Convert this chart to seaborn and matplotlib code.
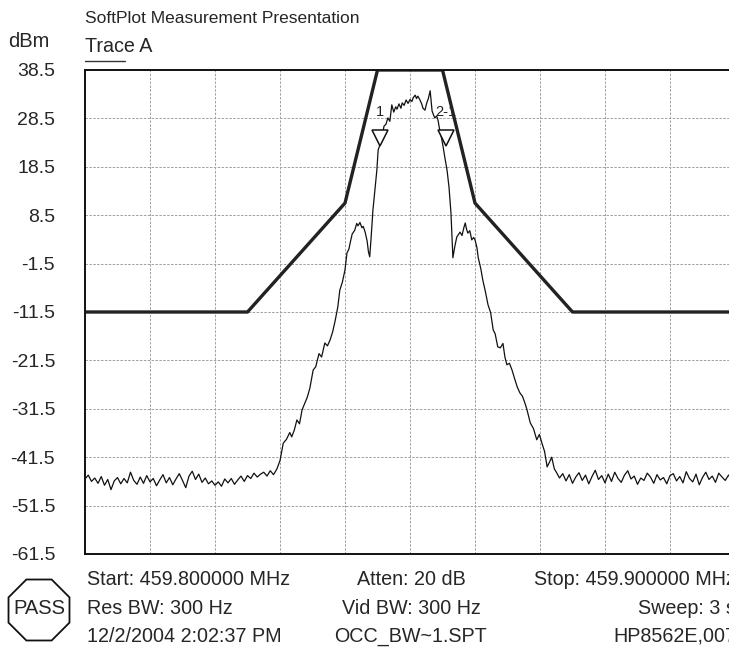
import numpy as np
import pandas as pd
import matplotlib.pyplot as plt
from matplotlib.patches import RegularPolygon
import seaborn as sns

# Sweep settings (MHz) and trace data (offsets in kHz from centre, levels in dBm)
start_mhz = 459.800
stop_mhz = 459.900
center_mhz = 459.850

y_ticks = [-61.5, -51.5, -41.5, -31.5, -21.5, -11.5, -1.5, 8.5, 18.5, 28.5, 38.5]

noise_left_dbm = [
    -46.0, -45.2, -46.5, -45.8, -46.9, -45.5, -47.3, -46.1, -48.2, -46.4,
    -45.7, -47.0, -45.9, -46.8, -44.6, -46.3, -47.1, -45.6, -46.9, -45.3,
    -46.6, -45.9, -47.4, -46.2, -45.1, -46.8, -45.7, -47.2, -46.0, -44.9,
    -46.3, -47.8, -45.4, -44.4, -46.1, -45.0, -46.7, -45.8, -47.0, -46.4,
    -47.3, -46.6, -47.5, -46.0, -46.8, -45.9, -47.1, -46.2, -45.4, -46.5,
    -45.3, -45.9, -44.8, -45.6, -45.0, -44.6, -45.4, -44.3, -45.1]

signal_khz = [
    -20.5, -20.0, -19.5, -19.0, -18.5, -18.2, -17.8, -17.4, -17.0, -16.6,
    -16.2, -15.8, -15.4, -14.9, -14.5, -14.0, -13.6, -13.1, -12.7, -12.3,
    -11.9, -11.5, -11.1, -10.8, -10.4, -10.0, -9.7, -9.4, -9.2, -8.9,
    -8.5, -8.2, -8.0, -7.7, -7.4, -7.2, -6.9, -6.6, -6.4, -6.2,
    -6.0, -5.7, -5.4, -5.1, -4.9, -4.6, -4.3, -4.0, -3.7, -3.4,
    -3.1, -2.8, -2.5, -2.2, -2.0, -1.7, -1.4, -1.2, -0.9, -0.6,
    -0.3, 0.0, 0.3, 0.5, 0.8, 1.0, 1.2, 1.5, 1.8, 2.0,
    2.3, 2.6, 2.8, 3.1, 3.4, 3.6, 3.8, 4.1, 4.3, 4.6,
    4.8, 5.1, 5.4, 5.7, 6.0, 6.3, 6.6, 6.9, 7.2, 7.5,
    7.7, 8.0, 8.3, 8.5, 8.7, 8.9, 9.2, 9.5, 9.8, 10.0,
    10.3, 10.5, 10.9, 11.2, 11.6, 12.0, 12.4, 12.8, 13.1, 13.5,
    13.9, 14.3, 14.6, 14.9, 15.3, 15.7, 16.1, 16.5, 16.9, 17.3,
    17.7, 18.0, 18.5, 19.0, 19.5, 19.9, 20.3, 20.7, 21.1, 21.5,
    21.8, 22.2, 22.6]
signal_dbm = [
    -44.0, -42.2, -38.6, -37.8, -36.4, -37.3, -35.9, -33.8, -34.6, -31.7,
    -30.4, -29.1, -27.2, -23.5, -22.8, -20.1, -20.8, -17.9, -18.5, -17.3,
    -15.6, -13.2, -10.4, -7.0, -5.3, -2.8, 0.7, 1.5, 2.8, 4.6,
    5.4, 6.8, 6.3, 7.0, 5.9, 6.2, 5.0, 3.2, 1.0, -0.1,
    3.5, 9.6, 13.7, 17.8, 22.0, 23.1, 24.7, 26.9, 27.3, 28.6,
    27.9, 31.3, 29.8, 30.9, 30.4, 31.5, 30.6, 31.7, 31.2, 32.3,
    31.6, 32.4, 32.0, 32.8, 33.3, 32.6, 33.1, 32.4, 31.5, 30.6,
    30.2, 31.8, 32.5, 34.2, 30.0, 29.3, 28.6, 29.0, 28.2, 25.9,
    24.8, 22.6, 20.1, 17.8, 14.3, 9.0, -0.3, 2.1, 4.0, 4.6,
    5.0, 4.3, 6.0, 6.9, 5.6, 4.8, 5.3, 3.4, 3.9, 3.4,
    1.8, -0.3, -2.6, -4.9, -7.3, -10.0, -11.6, -15.2, -16.0, -18.7,
    -18.9, -18.0, -20.8, -22.4, -22.1, -23.5, -25.3, -27.0, -28.2, -28.9,
    -30.4, -31.7, -34.4, -35.6, -37.9, -36.8, -38.6, -40.3, -43.5, -42.4,
    -41.5, -43.9, -44.8]

noise_right_dbm = [
    -45.8, -44.9, -46.4, -45.1, -46.9, -45.6, -44.7, -46.3, -45.2, -47.0,
    -45.5, -44.2, -46.1, -45.3, -46.8, -45.0, -46.5, -44.6, -45.9, -46.7,
    -45.2, -44.3, -46.0, -45.4, -47.1, -45.8, -46.3, -44.8, -45.6, -46.9,
    -45.1, -46.2, -45.7, -47.0, -45.3, -44.9, -46.4, -45.5, -46.8, -44.5,
    -45.9, -46.6, -45.0, -47.2, -45.7, -44.6, -46.1, -45.4, -46.7, -44.8,
    -45.6, -46.3, -45.2, -46.0]

# limit mask
mask_khz = [-50, -25, -10, -5, 5, 10, 25, 50]
mask_dbm = [-11.5, -11.5, 11.0, 38.5, 38.5, 11.0, -11.5, -11.5]

# markers
marker_khz = [-4.6, 5.5]
marker_dbm = [24.4, 24.4]
marker_labels = ['1', '2-1']

# build trace on the sweep grid
left_khz = np.arange(len(noise_left_dbm)) * 0.5 - 50
right_khz = np.arange(len(noise_right_dbm)) * 0.5 + 23
trace = pd.DataFrame({
    'khz': np.concatenate([left_khz, signal_khz, right_khz]),
    'dbm': noise_left_dbm + signal_dbm + noise_right_dbm,
})
trace['freq'] = center_mhz + trace['khz'] / 1000
mask = pd.DataFrame({'freq': center_mhz + np.array(mask_khz) / 1000, 'dbm': mask_dbm})

sns.set_theme(style='white')
plt.rcParams['font.family'] = ['Liberation Sans', 'DejaVu Sans']

W, H = 729, 649
fig = plt.figure(figsize=(W / 100, H / 100), dpi=100)
ax = fig.add_axes([85 / W, (H - 554) / H, 650 / W, 484 / H])

sns.lineplot(data=mask, x='freq', y='dbm', ax=ax, color='#222222', lw=2.4,
             sort=False, estimator=None)
sns.lineplot(data=trace, x='freq', y='dbm', ax=ax, color='#111111', lw=0.9,
             sort=False, estimator=None)
ax.plot(center_mhz + np.array(marker_khz) / 1000, marker_dbm, 'v', ms=12,
        mfc='white', mec='#111111', mew=1.1, clip_on=False)
for k, lab in zip(marker_khz, marker_labels):
    ax.text(center_mhz + k / 1000, 29.8, lab, fontsize=10.5, ha='center', va='center',
            color='#222222')

ax.set_xlim(start_mhz, stop_mhz)
ax.set_ylim(-61.5, 38.5)
ax.set_xticks(np.linspace(start_mhz, stop_mhz, 11))
ax.set_xticklabels([])
ax.set_yticks(y_ticks)
ax.set_yticklabels([f'{v:.1f}' for v in y_ticks], fontsize=14)
ax.tick_params(axis='both', length=0)
ax.tick_params(axis='y', pad=21.5)
ax.set_xlabel('')
ax.set_ylabel('')
ax.grid(True, color='#a0a0a0', linestyle=(0, (2.5, 1.5)), lw=0.7)
for s in ax.spines.values():
    s.set_color('#111111')
    s.set_linewidth(1.4)

# page annotations in pixel coordinates
ov = fig.add_axes([0, 0, 1, 1], zorder=-1)
ov.set_xlim(0, W)
ov.set_ylim(H, 0)
ov.axis('off')
ov.text(85, 23, 'SoftPlot Measurement Presentation', fontsize=12.5, va='baseline')
ov.text(8, 47, 'dBm', fontsize=14.5, va='baseline')
ov.text(85, 52, 'Trace A', fontsize=14.2, va='baseline')
ov.plot([85, 125], [61, 61], color='#333333', lw=1)

rows = [585, 614, 642]
left_col = ['Start: 459.800000 MHz', 'Res BW: 300 Hz', '12/2/2004 2:02:37 PM']
mid_col = ['Atten: 20 dB', 'Vid BW: 300 Hz', 'OCC_BW~1.SPT']
right_col = ['Stop: 459.900000 MHz', 'Sweep: 3 s', 'HP8562E,007']
for yb, a, b, c in zip(rows, left_col, mid_col, right_col):
    ov.text(87, yb, a, fontsize=14.2, va='baseline')
    ov.text(411, yb, b, fontsize=14.2, va='baseline', ha='center')
    ov.text(736, yb, c, fontsize=14.2, va='baseline', ha='right')

ov.add_patch(RegularPolygon((39, 610), numVertices=8, radius=33, orientation=np.pi / 8,
                            fill=False, ec='#111111', lw=1.3))
ov.text(39, 608, 'PASS', fontsize=14.5, ha='center', va='center')

fig.savefig('out.png', dpi=100)
